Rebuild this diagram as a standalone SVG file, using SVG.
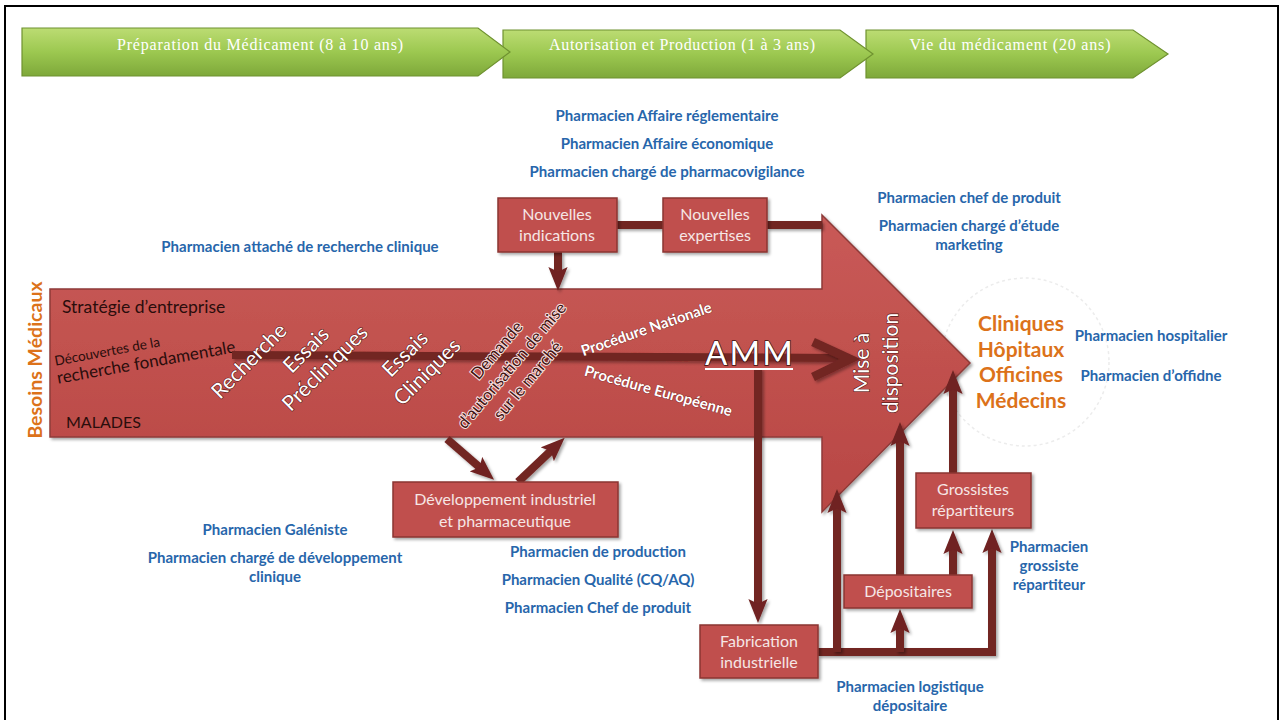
<svg xmlns="http://www.w3.org/2000/svg" width="1281" height="720" viewBox="0 0 1281 720">
<defs>
<linearGradient id="gGreen" x1="0" y1="0" x2="0" y2="1">
<stop offset="0" stop-color="#bcdc73"/><stop offset="0.5" stop-color="#9cc850"/><stop offset="1" stop-color="#7ea83a"/>
</linearGradient>
<linearGradient id="gRed" x1="0" y1="0" x2="0" y2="1">
<stop offset="0" stop-color="#c95a57"/><stop offset="1" stop-color="#b84744"/>
</linearGradient>
<filter id="sh" x="-10%" y="-10%" width="130%" height="130%">
<feDropShadow dx="2" dy="2" stdDeviation="1.8" flood-color="#000" flood-opacity="0.35"/>
</filter>
<filter id="lsh" filterUnits="userSpaceOnUse" x="0" y="0" width="1281" height="720">
<feDropShadow dx="2" dy="2" stdDeviation="1.5" flood-color="#000" flood-opacity="0.35"/>
</filter>
<marker id="ah" viewBox="0 0 10 8" refX="5" refY="4" markerWidth="3" markerHeight="2.4" orient="auto" markerUnits="strokeWidth">
<path d="M0,0 L10,4 L0,8 L2,4 z" fill="#6f2321"/>
</marker>
<style>
.chev{fill:url(#gGreen);stroke:#6f9230;stroke-width:1.2}
.chevt{font-family:"Liberation Serif",serif;font-size:16px;fill:#fff;text-anchor:middle}
.box{fill:#c0504d;stroke:#8b3533;stroke-width:1.5;filter:url(#sh)}
.bt{font-family:Lato,"Open Sans",sans-serif;font-size:16px;fill:#f6e6e5;text-anchor:middle}
.blue{font-family:Lato,"Open Sans",sans-serif;font-size:15px;font-weight:bold;fill:#2766ab;text-anchor:middle}
.org{font-family:Lato,"Open Sans",sans-serif;font-size:21px;font-weight:bold;fill:#dc721a;text-anchor:middle}
.dark{font-family:Lato,"Open Sans",sans-serif;font-size:17.5px;fill:#2a0d0c}
.wr{font-family:Lato,"Open Sans",sans-serif;font-size:21px;fill:#fff;stroke:#5a1a18;stroke-width:1.2;paint-order:stroke;text-anchor:middle}
.dm{font-family:Lato,"Open Sans",sans-serif;font-size:16.5px;fill:#3f1110;stroke:#f7e2e1;stroke-width:2;paint-order:stroke;text-anchor:middle}
.proc{font-family:Lato,"Open Sans",sans-serif;font-size:15px;font-weight:bold;fill:#fff;stroke:#7a2624;stroke-width:0.8;paint-order:stroke;text-anchor:middle}
.ln{fill:none;stroke:#722523;stroke-width:8;filter:url(#lsh)}
</style>
</defs>
<rect x="0" y="0" width="1281" height="720" fill="#fff"/>
<rect x="5" y="6" width="1273" height="730" fill="none" stroke="#000" stroke-width="2"/>

<g id="phase-vie">
<polygon class="chev" points="866,30 1133,30 1168,54 1133,78 866,78"/>
<text class="chevt" x="1010" y="50" textLength="201">Vie du médicament (20 ans)</text>
</g>
<g id="phase-autorisation">
<polygon class="chev" points="503,30 840,30 873,54 840,78 503,78"/>
<text class="chevt" x="682" y="50" textLength="266">Autorisation et Production (1 à 3 ans)</text>
</g>
<g id="phase-preparation">
<polygon class="chev" points="22,28 478,28 510,52 478,76 22,76"/>
<text class="chevt" x="260" y="50" textLength="286">Préparation du Médicament (8 à 10 ans)</text>
</g>

<circle cx="1025" cy="362" r="84" fill="none" stroke="#ececec" stroke-width="1.5" stroke-dasharray="3 3"/>

<g id="main-arrow">
<polygon points="50,289 822,289 822,215 970,363 822,512 822,437 50,437" fill="url(#gRed)" stroke="#8e3b39" stroke-width="1.5" filter="url(#sh)"/>
<text class="dark" x="62" y="313">Stratégie d’entreprise</text>
<text class="dark" style="font-size:16px" x="66" y="428">MALADES</text>
<text class="dark" style="font-size:13.5px" text-anchor="middle" transform="translate(108,356) rotate(-10.5)">Découvertes de la</text>
<text class="dark" style="font-size:17px" text-anchor="middle" transform="translate(147,368) rotate(-10)">recherche fondamentale</text>
</g>

<g id="connectors">
<line class="ln" x1="232" y1="355" x2="846" y2="358"/>
<polyline points="813,342 850,359 813,377" fill="none" stroke="#722523" stroke-width="9" stroke-linejoin="miter" filter="url(#lsh)"/>
<line class="ln" x1="617" y1="225" x2="663" y2="225"/>
<line class="ln" x1="767" y1="225" x2="822" y2="225"/>
<line class="ln" x1="558" y1="252" x2="558" y2="279" marker-end="url(#ah)"/>
<line class="ln" x1="447" y1="439" x2="485" y2="472" marker-end="url(#ah)"/>
<line class="ln" x1="518" y1="482" x2="556" y2="446" marker-end="url(#ah)"/>
<line class="ln" x1="758" y1="368" x2="758" y2="611" marker-end="url(#ah)"/>
<polyline class="ln" points="818,652 992,652 992,541" marker-end="url(#ah)"/>
<line class="ln" x1="837" y1="652" x2="837" y2="501" marker-end="url(#ah)"/>
<line class="ln" x1="900" y1="652" x2="900" y2="621" marker-end="url(#ah)"/>
<line class="ln" x1="900" y1="575" x2="900" y2="434" marker-end="url(#ah)"/>
<line class="ln" x1="953" y1="575" x2="953" y2="542" marker-end="url(#ah)"/>
<line class="ln" x1="953" y1="473" x2="953" y2="382" marker-end="url(#ah)"/>
</g>

<g id="arrow-labels">
<text class="wr" transform="translate(254,366) rotate(-45)">Recherche</text>
<text class="wr" transform="translate(311,355) rotate(-45)">Essais</text>
<text class="wr" transform="translate(330,373) rotate(-45)">Précliniques</text>
<text class="wr" transform="translate(410,359) rotate(-45)">Essais</text>
<text class="wr" transform="translate(432,377) rotate(-45)">Cliniques</text>
<text class="dm" transform="translate(501,354) rotate(-50)">Demande</text>
<text class="dm" transform="translate(516,369) rotate(-50)">d’autorisation de mise</text>
<text class="dm" transform="translate(532,384) rotate(-50)">sur le marché</text>
<text class="proc" transform="translate(648,334) rotate(-19)">Procédure Nationale</text>
<text class="proc" transform="translate(657,396) rotate(15.5)">Procédure Européenne</text>
<text x="749" y="365" font-family="Lato,'Open Sans',sans-serif" font-size="33" fill="#fff" stroke="#3a0e0d" stroke-width="1.5" paint-order="stroke" text-anchor="middle" textLength="88">AMM</text>
<line x1="705" y1="369" x2="793" y2="369" stroke="#fff" stroke-width="2"/>
<g transform="translate(877,363) rotate(-90)">
<text class="wr" x="0" y="-8">Mise à</text>
<text class="wr" x="0" y="21">disposition</text>
</g>
</g>

<g id="besoins">
<text font-family="Lato,'Open Sans',sans-serif" font-size="19.5" font-weight="bold" fill="#dc721a" text-anchor="middle" transform="translate(42,360) rotate(-90)">Besoins Médicaux</text>
</g>

<g id="node-nouvelles-indications">
<rect class="box" x="498" y="198" width="119" height="54"/>
<text class="bt" x="557" y="220">Nouvelles</text>
<text class="bt" x="557" y="241">indications</text>
</g>
<g id="node-nouvelles-expertises">
<rect class="box" x="663" y="198" width="104" height="54"/>
<text class="bt" x="715" y="220">Nouvelles</text>
<text class="bt" x="715" y="241">expertises</text>
</g>
<g id="node-developpement">
<rect class="box" x="393" y="482" width="225" height="55"/>
<text class="bt" x="505" y="505">Développement industriel</text>
<text class="bt" x="505" y="527">et pharmaceutique</text>
</g>
<g id="node-fabrication">
<rect class="box" x="700" y="625" width="118" height="53"/>
<text class="bt" x="759" y="647">Fabrication</text>
<text class="bt" x="759" y="668">industrielle</text>
</g>
<g id="node-depositaires">
<rect class="box" x="844" y="575" width="128" height="33"/>
<text class="bt" x="908" y="597">Dépositaires</text>
</g>
<g id="node-grossistes">
<rect class="box" x="916" y="473" width="115" height="55"/>
<text class="bt" x="973" y="495">Grossistes</text>
<text class="bt" x="973" y="516">répartiteurs</text>
</g>

<g id="destinations">
<text class="org" x="1021" y="331">Cliniques</text>
<text class="org" x="1021" y="357">Hôpitaux</text>
<text class="org" x="1021" y="382">Officines</text>
<text class="org" x="1021" y="408">Médecins</text>
</g>

<g id="roles">
<text class="blue" x="667" y="121">Pharmacien Affaire réglementaire</text>
<text class="blue" x="667" y="149">Pharmacien Affaire économique</text>
<text class="blue" x="667" y="177">Pharmacien chargé de pharmacovigilance</text>
<text class="blue" x="969" y="203">Pharmacien chef de produit</text>
<text class="blue" x="969" y="231">Pharmacien chargé d’étude</text>
<text class="blue" x="969" y="250">marketing</text>
<text class="blue" x="300" y="252">Pharmacien attaché de recherche clinique</text>
<text class="blue" x="1151" y="341">Pharmacien hospitalier</text>
<text class="blue" x="1151" y="381">Pharmacien d’offidne</text>
<text class="blue" x="275" y="535">Pharmacien Galéniste</text>
<text class="blue" x="275" y="563">Pharmacien chargé de développement</text>
<text class="blue" x="275" y="582">clinique</text>
<text class="blue" x="598" y="557">Pharmacien de production</text>
<text class="blue" x="598" y="585">Pharmacien Qualité (CQ/AQ)</text>
<text class="blue" x="598" y="613">Pharmacien Chef de produit</text>
<text class="blue" x="1049" y="552">Pharmacien</text>
<text class="blue" x="1049" y="571">grossiste</text>
<text class="blue" x="1049" y="590">répartiteur</text>
<text class="blue" x="910" y="692">Pharmacien logistique</text>
<text class="blue" x="910" y="711">dépositaire</text>
</g>
</svg>
